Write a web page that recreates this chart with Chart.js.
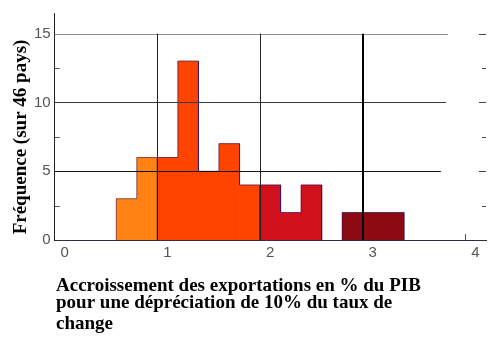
<!DOCTYPE html>
<html>
<head>
<meta charset="utf-8">
<script src="https://cdn.jsdelivr.net/npm/chart.js@4/dist/chart.umd.min.js"></script>
<style>
  html, body { margin: 0; padding: 0; background: #fff; }
  #wrap { width: 500px; height: 362px; position: relative; }
</style>
</head>
<body>
<div id="wrap"><canvas id="histo"></canvas></div>
<script>
// histogram bins (lower edge), counts and colour group of each bin
const binEdges   = [0.6, 0.8, 1.0, 1.2, 1.4, 1.6, 1.8, 2.0, 2.2, 2.4, 2.8, 3.0, 3.2];
const counts     = [3, 6, 6, 13, 5, 7, 4, 4, 2, 4, 2, 2, 2];
const groupOf    = [0, 0, 1, 1, 1, 1, 1, 2, 2, 2, 3, 3, 3];
const binWidth   = 0.2;
const groupColors = ['#ff8212', '#ff4400', '#d0101a', '#8c0a12'];
const xTicks     = [0, 1, 2, 3, 4];
const yTicks     = [0, 5, 10, 15];
const yMinor     = [2.5, 7.5, 12.5];
const yTitle     = 'Fréquence (sur 46 pays)';
const xTitle     = ['Accroissement des exportations en % du PIB',
                    'pour une dépréciation de 10% du taux de',
                    'change'];

const barData = binEdges.map((e, i) => ({ x: e + binWidth / 2, y: counts[i] }));

// step outline around each colour group
function outline(g) {
    const idx = groupOf.map((v, i) => v === g ? i : -1).filter(i => i >= 0);
    const pts = [{ x: binEdges[idx[0]], y: 0 }];
    idx.forEach(i => {
        pts.push({ x: binEdges[i], y: counts[i] });
        pts.push({ x: binEdges[i] + binWidth, y: counts[i] });
    });
    pts.push({ x: binEdges[idx[idx.length - 1]] + binWidth, y: 0 });
    return pts;
}

const outlineSets = groupColors.map((c, g) => ({
    type: 'line', data: outline(g), borderColor: 'rgba(40,20,110,0.55)', borderWidth: 1,
    pointRadius: 0, fill: false, tension: 0, order: 0
}));

// grid lines on top of the bars, not full width
const hLines = [ { v: 15, end: 3.83, color: '#8c8c8c' }, { v: 10, end: 3.81, color: '#3a3a3a' }, { v: 5, end: 3.76, color: '#111' } ];
const vLines = [ { v: 1, w: 1, color: '#222' }, { v: 2, w: 1, color: '#222' }, { v: 3, w: 2, color: '#000' } ];

const framePlugin = {
    id: 'frame',
    afterDatasetsDraw(chart) {
        const { ctx, chartArea: a, scales: { x, y } } = chart;
        ctx.save();
        hLines.forEach(l => {
            const py = Math.round(y.getPixelForValue(l.v)) + 0.5;
            ctx.strokeStyle = l.color; ctx.lineWidth = 1;
            ctx.beginPath(); ctx.moveTo(a.left, py); ctx.lineTo(x.getPixelForValue(l.end), py); ctx.stroke();
        });
        vLines.forEach(l => {
            const px = Math.round(x.getPixelForValue(l.v)) + (l.w === 1 ? 0.5 : 0);
            ctx.strokeStyle = l.color; ctx.lineWidth = l.w;
            ctx.beginPath(); ctx.moveTo(px, y.getPixelForValue(15)); ctx.lineTo(px, a.bottom); ctx.stroke();
        });
        // small inside ticks
        ctx.strokeStyle = '#555'; ctx.lineWidth = 1;
        const px4 = Math.round(x.getPixelForValue(4)) + 0.5;
        ctx.beginPath(); ctx.moveTo(px4, a.bottom); ctx.lineTo(px4, a.bottom - 6); ctx.stroke();
        yMinor.forEach(v => {
            const py = Math.round(y.getPixelForValue(v)) + 0.5;
            ctx.beginPath(); ctx.moveTo(a.left, py); ctx.lineTo(a.left + 5, py); ctx.stroke();
        });
        // right side ticks, no axis line
        yTicks.concat(yMinor).forEach(v => {
            if (v === 0) return;
            const py = Math.round(y.getPixelForValue(v)) + 0.5;
            const len = yTicks.includes(v) ? 7 : 4;
            ctx.strokeStyle = '#444';
            ctx.beginPath(); ctx.moveTo(a.right - len, py); ctx.lineTo(a.right, py); ctx.stroke();
        });
        ctx.restore();
    },
    afterDraw(chart) {
        const { ctx } = chart;
        ctx.save();
        ctx.fillStyle = '#000';
        ctx.font = 'bold 19px "Liberation Serif", "Times New Roman", serif';
        ctx.translate(21, 137);
        ctx.rotate(-Math.PI / 2);
        ctx.textAlign = 'center'; ctx.textBaseline = 'middle';
        ctx.fillText(yTitle, 0, 0);
        ctx.restore();

        ctx.save();
        ctx.fillStyle = '#000';
        ctx.font = 'bold 19px "Liberation Serif", "Times New Roman", serif';
        ctx.textAlign = 'left'; ctx.textBaseline = 'alphabetic';
        const baselines = [291, 308, 329];
        xTitle.forEach((t, i) => ctx.fillText(t, 56, baselines[i]));
        ctx.restore();
    }
};

new Chart(document.getElementById('histo'), {
    type: 'bar',
    data: {
        datasets: [
            { type: 'bar', data: barData, backgroundColor: groupOf.map(g => groupColors[g]),
              borderWidth: 0, barPercentage: 1, categoryPercentage: 1, order: 1 },
            ...outlineSets
        ]
    },
    options: {
        responsive: true, maintainAspectRatio: false, animation: false,
        layout: { padding: { left: 30, right: 14, top: 12, bottom: 96 } },
        plugins: { legend: { display: false }, tooltip: { enabled: false } },
        scales: {
            x: {
                type: 'linear', min: 0, max: 4.2, offset: false,
                grid: { display: false, drawTicks: false },
                border: { display: true, color: '#2e3040', width: 1 },
                afterBuildTicks: s => { s.ticks = xTicks.map(v => ({ value: v })); },
                ticks: { color: '#555', font: { family: '"Liberation Sans", Arial, sans-serif', size: 15 },
                         padding: 4, labelOffset: 10, maxRotation: 0 }
            },
            y: {
                min: 0, max: 16.5,
                grid: { display: false, drawTicks: false },
                border: { display: true, color: '#222', width: 1 },
                afterBuildTicks: s => { s.ticks = yTicks.map(v => ({ value: v })); },
                ticks: { color: '#555', font: { family: '"Liberation Sans", Arial, sans-serif', size: 15 },
                         padding: 4 }
            }
        }
    },
    plugins: [framePlugin]
});
</script>
</body>
</html>
